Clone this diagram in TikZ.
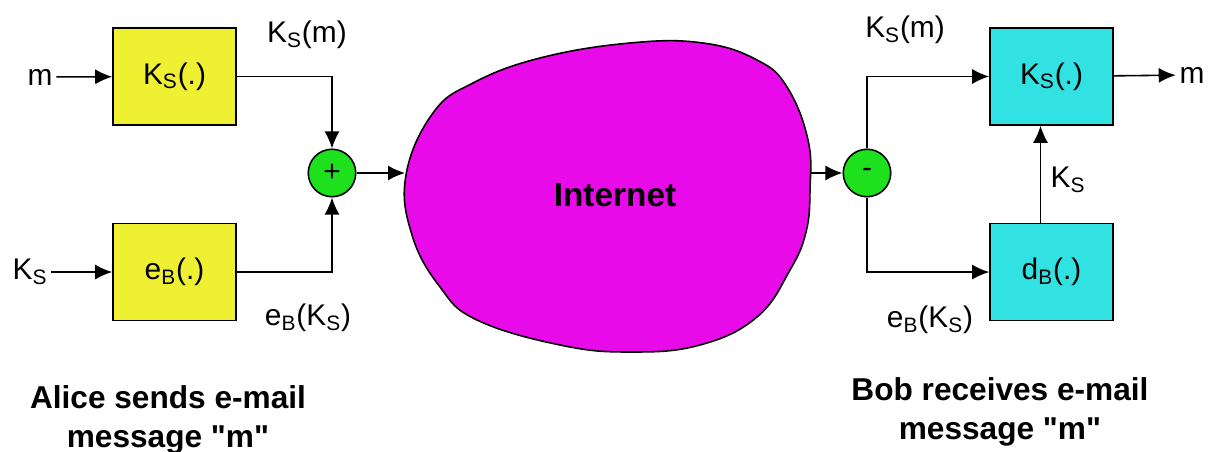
\documentclass[tikz,border=0pt]{standalone}
\usepackage{fontspec}
\setmainfont{Liberation Sans}
\usepackage{xcolor}
\usepackage{tikz}
\usetikzlibrary{arrows.meta,positioning}

\definecolor{alicebox}{RGB}{240,240,50}
\definecolor{bobbox}{RGB}{50,225,225}
\definecolor{mixer}{RGB}{30,225,30}
\definecolor{netblob}{RGB}{232,10,232}

\begin{document}
\begin{tikzpicture}[
    x=0.02cm, y=-0.02cm,
    box/.style={rectangle, draw, line width=0.9pt, minimum width=2.46cm, minimum height=1.94cm, align=center, font=\fontsize{17}{20}\selectfont},
    mixbox/.style={circle, draw, fill=mixer, line width=0.9pt, minimum size=0.95cm, inner sep=0pt, font=\fontsize{17}{20}\selectfont},
    lbl/.style={font=\fontsize{17}{20}\selectfont, inner sep=2pt},
    caption/.style={font=\bfseries\fontsize{18}{24}\selectfont, align=center},
    arrow/.style={-{Latex[length=3.4mm,width=3mm]}, line width=0.9pt}
]
    \useasboundingbox (0,0) rectangle (1212,452);

    % Alice side
    \node[box, fill=alicebox] (encks) at (174.5,76.5) {K\textsubscript{S}(.)};
    \node[box, fill=alicebox, below=1.94cm of encks] (encb) {e\textsubscript{B}(.)};
    \node[lbl] (msgin) at (40,77) {m};
    \node[lbl] (keyin) at (30,272) {K\textsubscript{S}};
    \node[mixbox] (plus) at (332,173) {+};
    \node[lbl] at (307,35) {K\textsubscript{S}(m)};
    \node[lbl] at (308,318) {e\textsubscript{B}(K\textsubscript{S})};

    % Internet
    \draw[fill=netblob, line width=0.9pt] plot[smooth cycle, tension=0.7] coordinates {
        (406,175) (433,113) (473,83) (540,58) (630,43) (703,43) (757,60) (787,87)
        (808,140) (810,190) (806,232) (790,270) (757,317) (700,345) (630,352)
        (560,345) (477,320) (440,287) (412,235)};
    \node[font=\bfseries\fontsize{19}{22}\selectfont] (net) at (615,195) {Internet};
    \coordinate (netin) at (405,173);
    \coordinate (netout) at (810,173);

    % Bob side
    \node[box, fill=bobbox] (decks) at (1051.5,76.5) {K\textsubscript{S}(.)};
    \node[box, fill=bobbox, below=1.94cm of decks] (decb) {d\textsubscript{B}(.)};
    \node[mixbox] (minus) at (867,173) {-};
    \node[lbl] (msgout) at (1192,75) {m};
    \node[lbl] at (905,30) {K\textsubscript{S}(m)};
    \node[lbl] at (930,320) {e\textsubscript{B}(K\textsubscript{S})};
    \node[lbl] at (1068,180) {K\textsubscript{S}};

    % Arrows
    \draw[arrow] (msgin) -- (encks);
    \draw[arrow] (keyin) -- (encb);
    \draw[arrow] (encks.east) -| (plus.north);
    \draw[arrow] (encb.east) -| (plus.south);
    \draw[arrow] (plus) -- (netin);
    \draw[arrow] (netout) -- (minus);
    \draw[arrow] (minus.north) |- (decks.west);
    \draw[arrow] (minus.south) |- (decb.west);
    \draw[arrow] ([xshift=-0.22cm]decb.north) -- ([xshift=-0.22cm]decks.south);
    \draw[arrow] (decks) -- (msgout);

    % Captions
    \node[caption] at (168,420) {Alice sends e-mail\\[-2pt]message \textquotedbl m\textquotedbl};
    \node[caption] at (1000,412) {Bob receives e-mail\\[-2pt]message \textquotedbl m\textquotedbl};

\end{tikzpicture}
\end{document}
